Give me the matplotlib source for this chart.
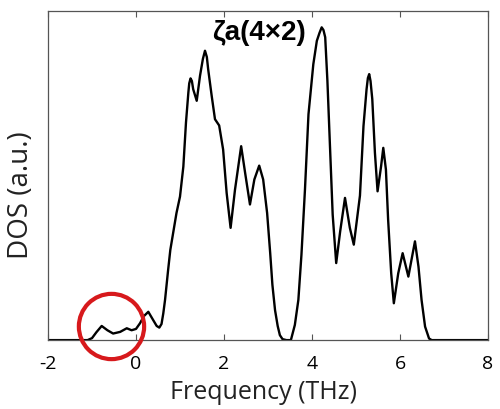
import matplotlib
matplotlib.use("Agg")
import matplotlib.pyplot as plt

# DOS curve (frequency in THz, DOS in a.u., peak ~0.95)
freq = [-2.00, -1.10, -1.00, -0.90, -0.78, -0.65, -0.52, -0.36, -0.21, -0.10,
        0.00, 0.09, 0.18, 0.28, 0.39, 0.47, 0.53, 0.58, 0.62, 0.66,
        0.73, 0.78, 0.83, 0.92, 1.00, 1.076, 1.136, 1.19, 1.21, 1.24,
        1.27, 1.30, 1.38, 1.455, 1.52, 1.568, 1.61, 1.64, 1.72, 1.795,
        1.89, 1.98, 2.06, 2.15, 2.25, 2.39, 2.48, 2.59, 2.69, 2.80,
        2.89, 2.98, 3.05, 3.10, 3.16, 3.22, 3.27, 3.33, 3.42, 3.52,
        3.61, 3.69, 3.76, 3.84, 3.92, 4.03, 4.11, 4.17, 4.22, 4.26,
        4.30, 4.35, 4.41, 4.47, 4.55, 4.64, 4.75, 4.86, 4.95, 5.09,
        5.17, 5.24, 5.27, 5.30, 5.33, 5.37, 5.43, 5.49, 5.57, 5.62,
        5.68, 5.73, 5.80, 5.86, 5.96, 6.06, 6.19, 6.34, 6.42, 6.49,
        6.57, 6.66, 6.72, 8.00]
dos = [0.0, 0.0, 0.006, 0.024, 0.043, 0.030, 0.020, 0.025, 0.036, 0.030,
       0.034, 0.051, 0.073, 0.086, 0.061, 0.043, 0.038, 0.049, 0.081, 0.122,
       0.213, 0.274, 0.314, 0.386, 0.436, 0.527, 0.661, 0.752, 0.780, 0.795,
       0.787, 0.762, 0.727, 0.803, 0.854, 0.879, 0.860, 0.823, 0.742, 0.671,
       0.652, 0.579, 0.447, 0.341, 0.457, 0.589, 0.508, 0.412, 0.488, 0.530,
       0.488, 0.386, 0.264, 0.168, 0.091, 0.043, 0.015, 0.003, 0.0, 0.0,
       0.046, 0.122, 0.259, 0.457, 0.686, 0.838, 0.909, 0.933, 0.950, 0.942,
       0.920, 0.788, 0.584, 0.381, 0.234, 0.330, 0.432, 0.341, 0.290, 0.439,
       0.650, 0.762, 0.796, 0.808, 0.787, 0.732, 0.569, 0.452, 0.528, 0.584,
       0.518, 0.366, 0.203, 0.112, 0.203, 0.264, 0.193, 0.300, 0.223, 0.122,
       0.041, 0.005, 0.0, 0.0]

x_ticks = [-2, 0, 2, 4, 6, 8]
title = "ζa(4×2)"
# highlighted region (red circle)
mark_x, mark_y = -0.57, 0.043

plt.rcParams["font.family"] = ["Open Sans", "DejaVu Sans"]

fig = plt.figure(figsize=(5.0, 4.1), dpi=100)
ax = fig.add_axes([0.096, 0.168, 0.88, 0.803])

ax.plot(freq, dos, color="black", lw=1.7, solid_joinstyle="round")
ax.plot([mark_x], [mark_y], marker="o", ms=47, mfc="none", mec="#d7191c",
        mew=3, clip_on=False, zorder=5)

ax.set_xlim(-2, 8)
ax.set_ylim(0, 1)
ax.set_xticks(x_ticks)
ax.set_xticklabels([str(t) for t in x_ticks])
ax.set_yticks([])
ax.tick_params(axis="x", direction="in", top=True, length=4, width=0.8,
               color="#555555", labelsize=14, pad=10)
for sp in ax.spines.values():
    sp.set_color("#555555")
    sp.set_linewidth(0.9)

ax.set_xlabel("Frequency (THz)", fontsize=18, color="#222222")
ax.xaxis.set_label_coords(0.489, -0.118)
ax.set_ylabel("DOS (a.u.)", fontsize=20, color="#222222")
ax.yaxis.set_label_coords(-0.03, 0.442)
ax.text(0.48, 0.936, title, transform=ax.transAxes, ha="center", va="center",
        fontsize=20, fontweight="bold", family=["Liberation Sans", "DejaVu Sans"])

fig.savefig("out.png", dpi=100)
